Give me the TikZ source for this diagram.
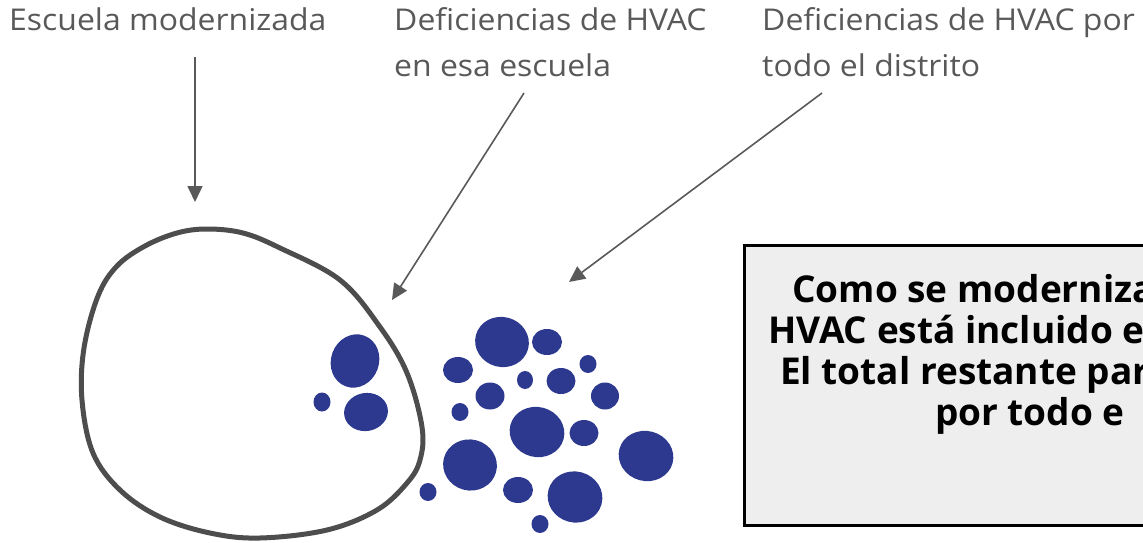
\documentclass[tikz,border=0pt]{standalone}
\usepackage{fontspec}
\setmainfont{Open Sans}
\usetikzlibrary{arrows.meta}
\definecolor{lblc}{HTML}{595959}
\definecolor{arrc}{HTML}{595959}
\definecolor{schoolc}{HTML}{4D4D4D}
\definecolor{blobc}{HTML}{2D398E}
\definecolor{boxfill}{HTML}{EEEEEE}
\tikzset{
  lbl/.style={anchor=base west, inner sep=0pt, text=lblc, font=\fontsize{30}{46}\selectfont, xscale=1.065},
  btxt/.style={anchor=base west, inner sep=0pt, text=black, font=\fontsize{37}{41}\selectfont\bfseries},
  arr/.style={draw=arrc, line width=1.6pt, -{Triangle[length=16pt,width=15pt]}},
  school/.style={draw=schoolc, line width=5pt},
  blob/.style={fill=blobc},
  boxst/.style={draw=black, line width=3pt, fill=boxfill, inner sep=0pt, anchor=north west, minimum width=600pt, minimum height=280pt}
}
\begin{document}
\begin{tikzpicture}[x=1pt,y=-1pt]
\useasboundingbox (0,0) rectangle (1143,543);
\clip (0,0) rectangle (1143,543);
% labels
\node[lbl] (l1) at (9,31) {Escuela modernizada};
\node[lbl] (l2a) at (394,31) {Deficiencias de HVAC};
\node[lbl] (l2b) at (394,77) {en esa escuela};
\node[lbl] (l3a) at (762,31) {Deficiencias de HVAC por};
\node[lbl] (l3b) at (762,77) {todo el distrito};
% arrows
\coordinate (s1) at (195,57);
\coordinate (e1) at (195,202);
\coordinate (s2) at (524,93);
\coordinate (e2) at (392,300);
\coordinate (s3) at (822,93);
\coordinate (e3) at (569,282);
\draw[arr] (s1) -- (e1);
\draw[arr] (s2) -- (e2);
\draw[arr] (s3) -- (e3);
% school outline
\draw[school] plot[smooth cycle, tension=0.6] coordinates {
 (207,229) (243,233) (280,248) (340,280) (380,327) (407,373)
 (422,427) (420,460) (407,483) (377,510) (327,530) (260,538) (210,533)
 (160,517) (120,490) (93,453) (82,400) (84,348) (98,296) (117,266)
 (145,246) (177,233)};
% blobs
\fill[blob, rotate around={-20:(355,361)}] (355,361) ellipse [x radius=24, y radius=27];
\fill[blob, rotate around={10:(366,412)}] (366,412) ellipse [x radius=22, y radius=19];
\fill[blob] (322,402) ellipse [x radius=8.5, y radius=9.5];
\fill[blob] (428,492) ellipse [x radius=8.5, y radius=9];
\fill[blob, rotate around={-15:(502,342)}] (502,342) ellipse [x radius=27, y radius=25];
\fill[blob] (547,342) ellipse [x radius=15, y radius=13];
\fill[blob] (458,370) ellipse [x radius=15, y radius=13];
\fill[blob] (588,364) ellipse [x radius=8.5, y radius=9];
\fill[blob] (525,380) ellipse [x radius=8, y radius=9];
\fill[blob] (561,381) ellipse [x radius=14.5, y radius=13];
\fill[blob] (490,396) ellipse [x radius=14.5, y radius=13.5];
\fill[blob] (605,396) ellipse [x radius=14, y radius=13.5];
\fill[blob] (460,412) ellipse [x radius=8.5, y radius=9];
\fill[blob, rotate around={-15:(537,432)}] (537,432) ellipse [x radius=27.5, y radius=25];
\fill[blob] (584,433) ellipse [x radius=14.5, y radius=13];
\fill[blob, rotate around={-15:(646,456)}] (646,456) ellipse [x radius=27.5, y radius=25];
\fill[blob, rotate around={-15:(470,465)}] (470,465) ellipse [x radius=27, y radius=25.5];
\fill[blob] (518,490) ellipse [x radius=15, y radius=13];
\fill[blob, rotate around={-15:(575,497)}] (575,497) ellipse [x radius=27.5, y radius=25.5];
\fill[blob] (540,524) ellipse [x radius=8.5, y radius=9];
% text box
\node[boxst] (box) at (743,244) {};
\node[btxt] (t1) at (792,302) {Como se moderniza};
\node[btxt] (t2) at (768,343) {HVAC está incluido e};
\node[btxt] (t3) at (780,384) {El total restante par};
\node[btxt] (t4) at (935,425) {por todo e};
\end{tikzpicture}
\end{document}
